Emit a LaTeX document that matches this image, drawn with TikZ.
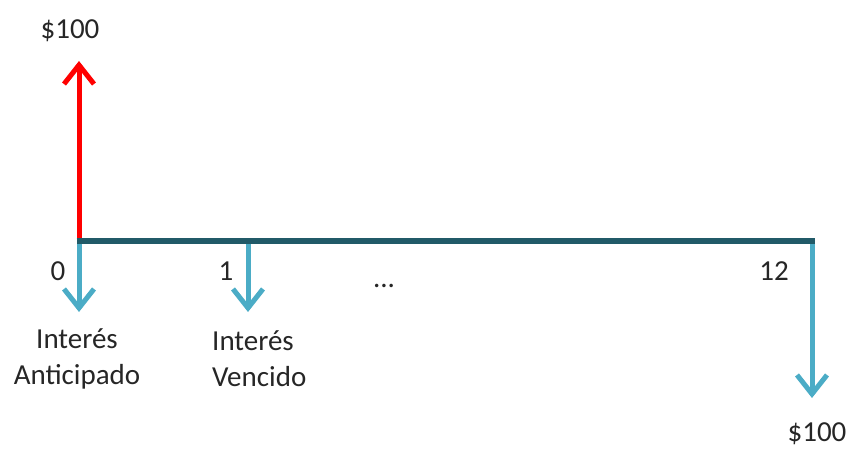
\documentclass[tikz,border=0pt]{standalone}
\usepackage{fontspec}
\setmainfont{Carlito}
\usetikzlibrary{arrows.meta}
\definecolor{lineteal}{HTML}{215A68}
\definecolor{flowblue}{HTML}{4BACC6}
\definecolor{flowred}{HTML}{FF0000}
\tikzset{
  txt/.style={font=\fontsize{29}{36}\selectfont, inner sep=0pt, text=black!85},
  inflow/.style={draw=flowred, line width=5pt, -{Straight Barb[length=19pt,width=30pt]}},
  outflow/.style={draw=flowblue, line width=5pt, -{Straight Barb[length=19pt,width=30pt]}},
  axis/.style={draw=lineteal, line width=6pt}
}
\begin{document}
\begin{tikzpicture}[x=1pt,y=-1pt]
\useasboundingbox (0,0) rectangle (849,449);
% points on the timeline
\coordinate (t0) at (79,241);
\coordinate (t1) at (248,241);
\coordinate (t12) at (812,241);
\coordinate (t0up) at (79,61);
\coordinate (t0dn) at (79,312);
\coordinate (t1dn) at (248,312);
\coordinate (t12dn) at (812,398);
% arrows
\draw[inflow] (t0) -- (t0up);
\draw[outflow] ([yshift=2pt]t0) -- (t0dn);
\draw[outflow] ([yshift=2pt]t1) -- (t1dn);
\draw[outflow] ([yshift=-3pt]t12) -- (t12dn);
\draw[axis] ([xshift=-2.5pt]t0) -- ([xshift=2.5pt]t12);
% labels
\node[txt] (top) at (70,31) {\$100};
\node[txt] (l0) at (58,271) {0};
\node[txt] (l1) at (226,271) {1};
\node[txt] (dots) at (384,286) {...};
\node[txt] (l12) at (774,271) {12};
\node[txt, align=center] (ia) at (77,359) {Interés\\Anticipado};
\node[txt, align=left, anchor=west] (iv) at (212,359) {Interés\\Vencido};
\node[txt] (bot) at (817,434) {\$100};
\end{tikzpicture}
\end{document}
